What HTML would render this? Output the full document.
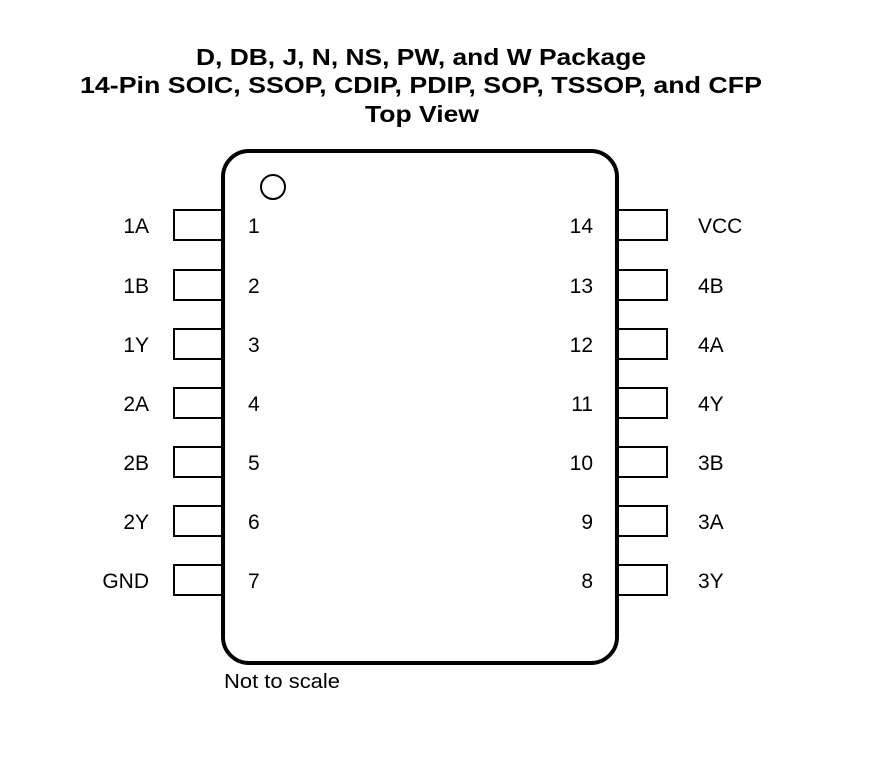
<!DOCTYPE html>
<html><head><style>
body{margin:0;background:#fff;width:881px;height:760px;overflow:hidden}
</style></head><body>
<svg width="881" height="760" xmlns="http://www.w3.org/2000/svg" font-family="Liberation Sans, Arial, sans-serif">
<g font-weight="bold" font-size="23" fill="#000">
<text x="196" y="65" textLength="450" lengthAdjust="spacingAndGlyphs">D, DB, J, N, NS, PW, and W Package</text>
<text x="80" y="93" textLength="682" lengthAdjust="spacingAndGlyphs">14-Pin SOIC, SSOP, CDIP, PDIP, SOP, TSSOP, and CFP</text>
<text x="365" y="122" textLength="114" lengthAdjust="spacingAndGlyphs">Top View</text>
</g>
<rect x="223" y="151" width="394" height="512" rx="26" ry="26" fill="none" stroke="#000" stroke-width="4"/>
<circle cx="273" cy="187" r="12" fill="none" stroke="#000" stroke-width="2"/>
<g fill="none" stroke="#000" stroke-width="2">
<rect x="174" y="210" width="48" height="30"/><rect x="174" y="270" width="48" height="30"/>
<rect x="174" y="329" width="48" height="30"/><rect x="174" y="388" width="48" height="30"/>
<rect x="174" y="447" width="48" height="30"/><rect x="174" y="506" width="48" height="30"/>
<rect x="174" y="565" width="48" height="30"/>
<rect x="618" y="210" width="49" height="30"/><rect x="618" y="270" width="49" height="30"/>
<rect x="618" y="329" width="49" height="30"/><rect x="618" y="388" width="49" height="30"/>
<rect x="618" y="447" width="49" height="30"/><rect x="618" y="506" width="49" height="30"/>
<rect x="618" y="565" width="49" height="30"/>
</g>
<g font-size="21" fill="#000">
<g text-anchor="end">
<text x="149" y="233">1A</text><text x="149" y="293">1B</text><text x="149" y="352">1Y</text>
<text x="149" y="411">2A</text><text x="149" y="470">2B</text><text x="149" y="529">2Y</text>
<text x="149" y="588">GND</text>
<text x="593" y="233">14</text><text x="593" y="293">13</text><text x="593" y="352">12</text>
<text x="593" y="411">11</text><text x="593" y="470">10</text><text x="593" y="529">9</text>
<text x="593" y="588">8</text>
</g>
<text x="248" y="233">1</text><text x="248" y="293">2</text><text x="248" y="352">3</text>
<text x="248" y="411">4</text><text x="248" y="470">5</text><text x="248" y="529">6</text>
<text x="248" y="588">7</text>
<text x="698" y="233">VCC</text><text x="698" y="293">4B</text><text x="698" y="352">4A</text>
<text x="698" y="411">4Y</text><text x="698" y="470">3B</text><text x="698" y="529">3A</text>
<text x="698" y="588">3Y</text>
</g>
<text x="224" y="688" font-size="20" fill="#000" textLength="116" lengthAdjust="spacingAndGlyphs">Not to scale</text>
</svg>
</body></html>
